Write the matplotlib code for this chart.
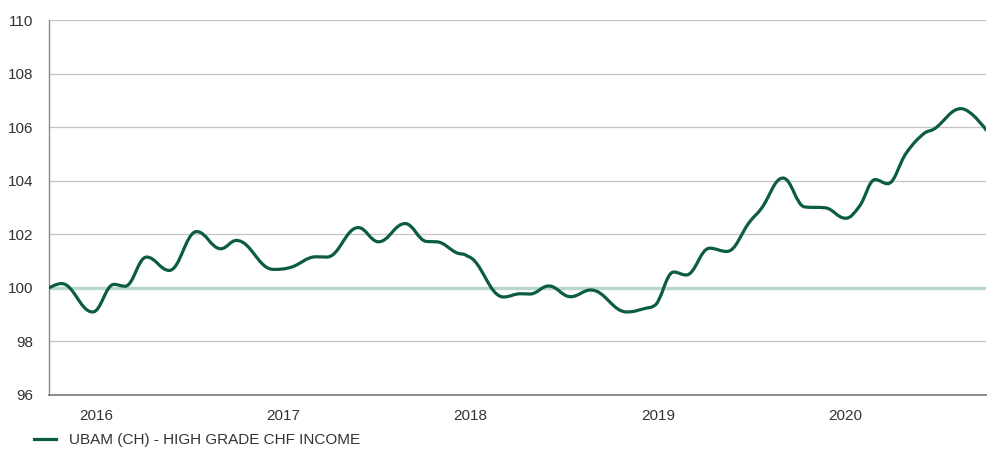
import numpy as np
import matplotlib
matplotlib.use('Agg')
import matplotlib.pyplot as plt
from matplotlib.path import Path
from matplotlib.patches import PathPatch
from matplotlib.lines import Line2D

# observations: months since 1 Oct 2015, index rebased to 100
meses = [0.0, 0.8, 2.8, 4.16, 4.87, 6.25, 7.7, 9.46, 11.0, 12.0,
         14.36, 15.5, 17.1, 17.8, 19.8, 21.1, 22.8, 24.2, 24.8, 26.1,
         26.8, 29.1, 30.2, 30.8, 32.0, 33.4, 34.7, 37.0, 38.3, 38.7,
         40.0, 40.8, 42.3, 43.4, 44.9, 45.6, 47.0, 48.4, 49.7, 51.0,
         51.9, 52.9, 53.7, 54.9, 56.0, 56.7, 58.4, 60.0]
valores = [100.00, 100.16, 99.10, 100.13, 100.06, 101.15, 100.65, 102.10, 101.46, 101.77,
           100.69, 100.77, 101.16, 101.15, 102.25, 101.72, 102.40, 101.73, 101.72, 101.31,
           101.18, 99.66, 99.78, 99.77, 100.07, 99.67, 99.92, 99.10, 99.25, 99.32,
           100.59, 100.48, 101.48, 101.36, 102.49, 102.95, 104.10, 103.02, 102.99, 102.60,
           103.05, 104.04, 103.89, 105.04, 105.75, 105.94, 106.69, 105.90]
anios = ['2016', '2017', '2018', '2019', '2020']
pos_anios = [3, 15, 27, 39, 51]  # january of each year
yticks = [96, 98, 100, 102, 104, 106, 108, 110]
serie = 'UBAM (CH) - HIGH GRADE CHF INCOME'

verde = '#0b5c40'
verde_claro = '#b9d8c8'
gris = '#c4c4c4'
texto = '#333333'

plt.rcParams['font.family'] = ['Liberation Sans', 'DejaVu Sans']


def spline_path(x, y, smoothing=1.5):
    # same smoothing as a highcharts "spline" series
    x = list(map(float, x)); y = list(map(float, y))
    n = len(x)
    denom = smoothing + 1
    left = [(x[i], y[i]) for i in range(n)]
    right = [(x[i], y[i]) for i in range(n)]
    for i in range(1, n - 1):
        lx = (smoothing * x[i] + x[i - 1]) / denom
        ly = (smoothing * y[i] + y[i - 1]) / denom
        rx = (smoothing * x[i] + x[i + 1]) / denom
        ry = (smoothing * y[i] + y[i + 1]) / denom
        corr = 0.0
        if rx != lx:
            corr = (ry - ly) * (rx - x[i]) / (rx - lx) + y[i] - ry
        ly += corr
        ry += corr
        if ly > y[i - 1] and ly > y[i]:
            ly = max(y[i - 1], y[i]); ry = 2 * y[i] - ly
        elif ly < y[i - 1] and ly < y[i]:
            ly = min(y[i - 1], y[i]); ry = 2 * y[i] - ly
        if ry > y[i + 1] and ry > y[i]:
            ry = max(y[i + 1], y[i]); ly = 2 * y[i] - ry
        elif ry < y[i + 1] and ry < y[i]:
            ry = min(y[i + 1], y[i]); ly = 2 * y[i] - ry
        left[i] = (lx, ly)
        right[i] = (rx, ry)
    verts = [(x[0], y[0])]
    codes = [Path.MOVETO]
    for i in range(1, n):
        verts += [right[i - 1], left[i], (x[i], y[i])]
        codes += [Path.CURVE4] * 3
    return Path(verts, codes)


fig = plt.figure(figsize=(9.93, 4.5), dpi=100)
ax = fig.add_axes([49 / 993, 1 - 395 / 450, 937 / 993, 375 / 450])

for v in yticks:
    if v == 100:
        ax.axhline(v, color=verde_claro, lw=2.4, zorder=1)
    elif v != 96:
        ax.axhline(v, color=gris, lw=0.9, zorder=1)

ax.add_patch(PathPatch(spline_path(meses, valores), fill=False, edgecolor=verde,
                       lw=2.3, capstyle='round', joinstyle='round', zorder=3))

ax.set_xlim(0, 60)
ax.set_ylim(96, 110)
ax.set_yticks(yticks)
ax.set_yticklabels([str(v) for v in yticks])
ax.set_xticks(pos_anios)
ax.set_xticklabels(anios)
ax.tick_params(length=0, labelsize=11, colors=texto)
ax.tick_params(axis='y', pad=11.5)
ax.tick_params(axis='x', pad=10)
for s in ['top', 'right']:
    ax.spines[s].set_visible(False)
ax.spines['left'].set_color('#8a8a8a')
ax.spines['bottom'].set_color('#8a8a8a')
ax.spines['left'].set_linewidth(1.0)
ax.spines['bottom'].set_linewidth(1.4)

proxy = Line2D([], [], color=verde, lw=2.3)
leg = fig.legend([proxy], [serie], loc='center left', bbox_to_anchor=(20 / 993, 1 - 440 / 450),
                 frameon=False, fontsize=11, handlelength=1.45, handletextpad=0.85)
for t in leg.get_texts():
    t.set_color(texto)

fig.savefig('out.png', dpi=100)
